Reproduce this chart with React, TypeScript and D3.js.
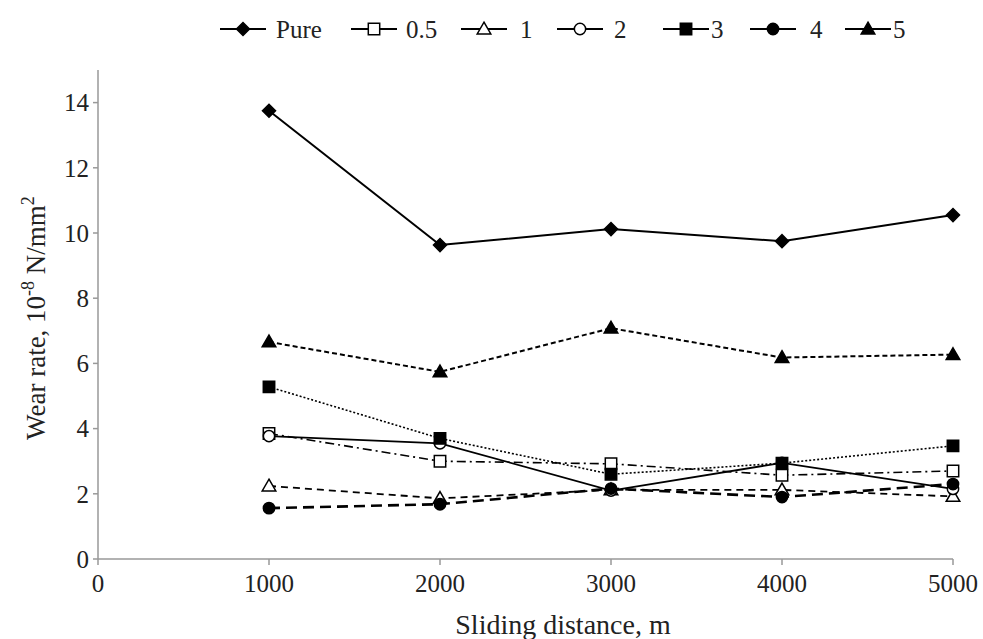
import React from "react";
import * as d3 from "d3";

const distances = [1000, 2000, 3000, 4000, 5000];
const seriesNames = ["Pure", "0.5", "1", "2", "3", "4", "5"];
const pure = [13.75, 9.63, 10.12, 9.75, 10.55];
const s05 = [3.85, 3.0, 2.92, 2.57, 2.7];
const s1 = [2.24, 1.86, 2.12, 2.12, 1.92];
const s2 = [3.77, 3.55, 2.1, 2.95, 2.15];
const s3 = [5.28, 3.7, 2.6, 2.94, 3.47];
const s4 = [1.56, 1.68, 2.16, 1.9, 2.3];
const s5 = [6.66, 5.74, 7.08, 6.18, 6.27];
const xTicks = [0, 1000, 2000, 3000, 4000, 5000];
const yTicks = [0, 2, 4, 6, 8, 10, 12, 14];

type Style = { marker: string; fill: string; dash: string; width: number };
const styles: Style[] = [
  { marker: "diamond", fill: "#000", dash: "", width: 2 },
  { marker: "square", fill: "#fff", dash: "9,4,2,4", width: 1.6 },
  { marker: "triangle", fill: "#fff", dash: "7,5", width: 1.8 },
  { marker: "circle", fill: "#fff", dash: "", width: 1.8 },
  { marker: "square", fill: "#000", dash: "2,2", width: 1.6 },
  { marker: "circle", fill: "#000", dash: "11,6", width: 2.6 },
  { marker: "triangle", fill: "#000", dash: "5,3", width: 2 },
];
const seriesValues = [pure, s05, s1, s2, s3, s4, s5];
const legendMarkerX = [243, 374, 484, 580, 686, 773, 868];
const legendTextX = [276, 406, 520, 614, 711, 810, 893];

const FONT = "Liberation Serif, Tinos, Times New Roman, DejaVu Serif, serif";
const textStyle = { fontFamily: FONT };

function markerPath(kind: string) {
  if (kind === "diamond") return d3.symbol().type(d3.symbolSquare).size(85)()!;
  if (kind === "square") return d3.symbol().type(d3.symbolSquare).size(130)()!;
  if (kind === "triangle") return d3.symbol().type(d3.symbolTriangle).size(80)()!;
  return d3.symbol().type(d3.symbolCircle).size(100)()!;
}

function Marker({ kind, fill, x, y }: { kind: string; fill: string; x: number; y: number }) {
  const rot = kind === "diamond" ? " rotate(45)" : "";
  const dy = kind === "triangle" ? 1 : 0;
  return (
    <path
      d={markerPath(kind)}
      transform={`translate(${x},${y + dy})${rot}`}
      fill={fill}
      stroke="#000"
      strokeWidth={1.5}
    />
  );
}

export default function App() {
  const W = 983;
  const H = 639;
  const x = d3.scaleLinear().domain([0, 5000]).range([98, 953]);
  const y = d3.scaleLinear().domain([0, 14]).range([559, 102.6]);
  const line = d3
    .line<number>()
    .x((_, i) => x(distances[i]))
    .y((d) => y(d));

  return (
    <svg
      width={W}
      height={H}
      style={{ position: "absolute", left: 0, top: 0, background: "#fff", fontFamily: FONT }}
    >
      {/* axes */}
      <line x1={x(0)} x2={x(0)} y1={y(0)} y2={70} stroke="#999" strokeWidth={1.5} />
      <line x1={x(0)} x2={x(5000)} y1={y(0)} y2={y(0)} stroke="#999" strokeWidth={1.5} />
      {yTicks.map((t) => (
        <g key={"y" + t}>
          <line x1={x(0) - 5} x2={x(0)} y1={y(t)} y2={y(t)} stroke="#999" strokeWidth={1.5} />
          <text style={textStyle} x={89} y={y(t)} dy="0.35em" textAnchor="end" fontSize={25} fill="#222">
            {t}
          </text>
        </g>
      ))}
      {xTicks.map((t) => (
        <g key={"x" + t}>
          <line x1={x(t)} x2={x(t)} y1={y(0)} y2={y(0) + 6} stroke="#999" strokeWidth={1.5} />
          <text style={textStyle} x={x(t)} y={592} textAnchor="middle" fontSize={25} fill="#222">
            {t}
          </text>
        </g>
      ))}
      <text style={textStyle} x={563} y={634} textAnchor="middle" fontSize={28} fill="#222">
        Sliding distance, m
      </text>
      <text
        style={textStyle}
        transform={`translate(45,318) rotate(-90)`}
        textAnchor="middle"
        fontSize={27}
        fill="#222"
      >
        Wear rate, 10
        <tspan fontSize={18} dy={-11}>-8</tspan>
        <tspan dy={11}> N/mm</tspan>
        <tspan fontSize={18} dy={-11}>2</tspan>
      </text>

      {/* series */}
      {seriesValues.map((vals, si) => (
        <path
          key={"l" + si}
          d={line(vals)!}
          fill="none"
          stroke="#000"
          strokeWidth={styles[si].width}
          strokeDasharray={styles[si].dash}
        />
      ))}
      {seriesValues.map((vals, si) =>
        vals.map((v, i) => (
          <Marker key={`m${si}-${i}`} kind={styles[si].marker} fill={styles[si].fill} x={x(distances[i])} y={y(v)} />
        ))
      )}

      {/* legend */}
      {seriesNames.map((name, si) => (
        <g key={"lg" + si}>
          <line
            x1={legendMarkerX[si] - 23}
            x2={legendMarkerX[si] + 23}
            y1={29}
            y2={29}
            stroke="#000"
            strokeWidth={2}
          />
          <Marker kind={styles[si].marker} fill={styles[si].fill} x={legendMarkerX[si]} y={29} />
          <text style={textStyle} x={legendTextX[si]} y={29} dy="0.35em" fontSize={25} fill="#222">
            {name}
          </text>
        </g>
      ))}
    </svg>
  );
}
